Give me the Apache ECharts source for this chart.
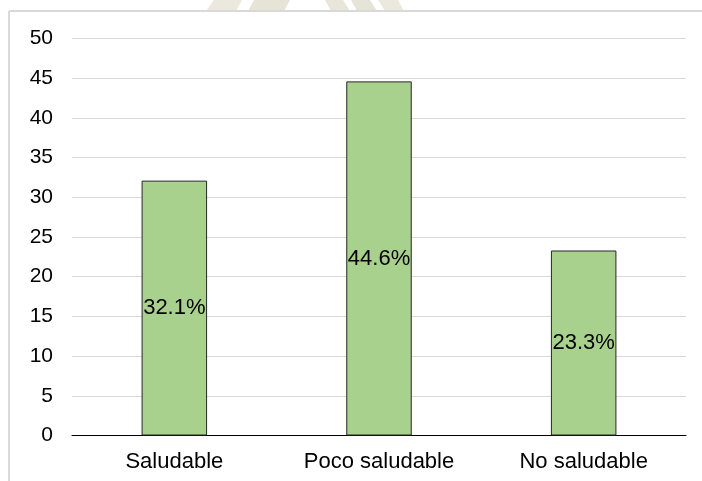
<!DOCTYPE html>
<html>
<head>
<meta charset="utf-8">
<script src="https://cdn.jsdelivr.net/npm/echarts@6/dist/echarts.min.js"></script>
<style>
  html, body { margin: 0; padding: 0; background: #ffffff; }
  #chart { width: 702px; height: 481px; }
</style>
</head>
<body>
<div id="chart"></div>
<script>
// Categories and percentages of the three groups
const categories = ['Saludable', 'Poco saludable', 'No saludable'];
const percentages = [32.1, 44.6, 23.3];
const yTicks = { min: 0, max: 50, interval: 5 };

const chart = echarts.init(document.getElementById('chart'), null, { renderer: 'canvas' });

const font = '"Liberation Sans", Arial, sans-serif';

chart.setOption({
  backgroundColor: '#ffffff',
  animation: false,
  graphic: [
    // faint emblem stripes along the top edge
    { type: 'polygon', silent: true, z: -1, shape: { points: [[214, 0], [242, 0], [236, 11], [206, 11]] }, style: { fill: '#ebe9dd' } },
    { type: 'polygon', silent: true, z: -1, shape: { points: [[254, 0], [290, 0], [284, 11], [248, 11]] }, style: { fill: '#e6e4d6' } },
    { type: 'polygon', silent: true, z: -1, shape: { points: [[325, 0], [343, 0], [350, 11], [331, 11]] }, style: { fill: '#e8e6da' } },
    { type: 'polygon', silent: true, z: -1, shape: { points: [[351, 0], [370, 0], [377, 11], [357, 11]] }, style: { fill: '#e6e4d6' } },
    { type: 'polygon', silent: true, z: -1, shape: { points: [[378, 0], [398, 0], [404, 11], [385, 11]] }, style: { fill: '#ebe9dd' } },
    // chart frame (top and left edges)
    { type: 'line', silent: true, shape: { x1: 9, y1: 11, x2: 702, y2: 11 }, style: { stroke: '#d9d9d9', lineWidth: 2 } },
    { type: 'line', silent: true, shape: { x1: 9, y1: 11, x2: 9, y2: 481 }, style: { stroke: '#d9d9d9', lineWidth: 2 } }
  ],
  grid: { left: 72, right: 16, top: 38.5, bottom: 45.5, containLabel: false },
  xAxis: {
    type: 'category',
    data: categories,
    axisTick: { show: false },
    axisLine: { lineStyle: { color: '#000000', width: 1 } },
    axisLabel: { color: '#000000', fontFamily: font, fontSize: 22, margin: 15 }
  },
  yAxis: {
    type: 'value',
    min: yTicks.min,
    max: yTicks.max,
    interval: yTicks.interval,
    axisLine: { show: false },
    axisTick: { show: false },
    axisLabel: { color: '#000000', fontFamily: font, fontSize: 21, margin: 19 },
    splitLine: { lineStyle: { color: '#d9d9d9', width: 1 } }
  },
  series: [{
    type: 'bar',
    data: percentages,
    barWidth: '32%',
    itemStyle: { color: '#a9d18e', borderColor: '#262626', borderWidth: 1 },
    label: {
      show: true,
      position: 'inside',
      color: '#000000',
      fontFamily: font,
      fontSize: 22,
      formatter: p => p.value.toFixed(1) + '%'
    }
  }]
});
</script>
</body>
</html>
